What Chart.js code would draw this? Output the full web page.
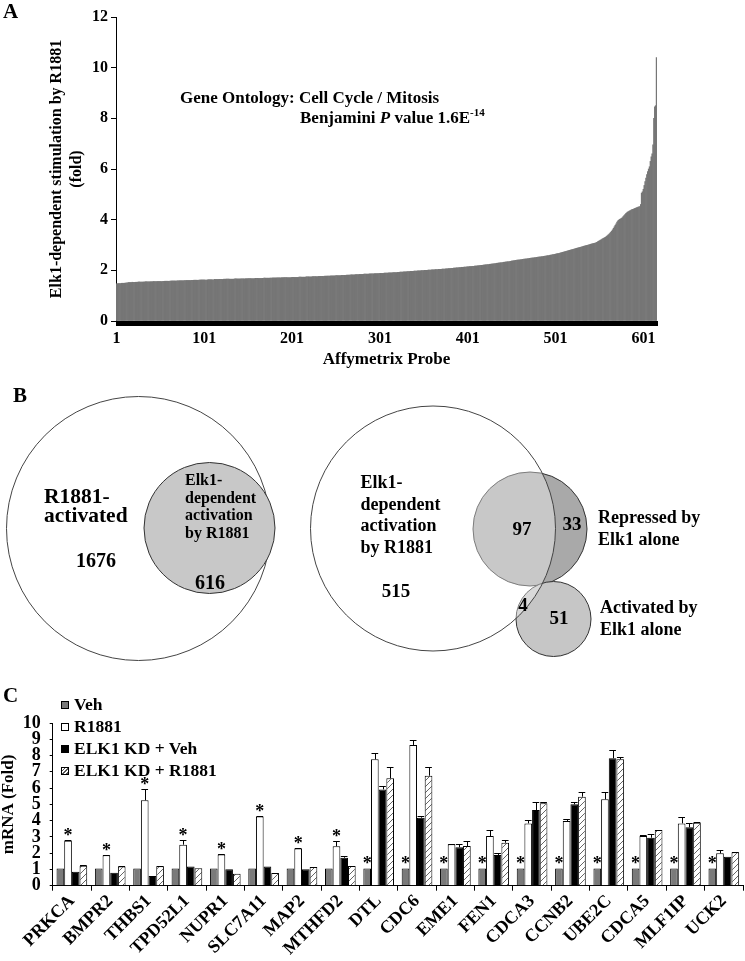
<!DOCTYPE html>
<html>
<head>
<meta charset="utf-8">
<title>Elk1-dependent activation by R1881</title>
<script src="https://cdn.jsdelivr.net/npm/chart.js@4.4.1/dist/chart.umd.min.js"></script>
<style>
html,body{margin:0;padding:0;background:#fff;}
#page{position:relative;width:745px;height:961px;overflow:hidden;background:#fff;font-family:"Liberation Serif","Times New Roman",Times,serif;font-weight:bold;color:#000;}
#page canvas{position:absolute;left:0;}
.t{position:absolute;white-space:nowrap;line-height:1;}
.sw{position:absolute;width:6px;height:6px;border:1px solid #000;}
</style>
</head>
<body>
<div id="page">
  <canvas id="chartA" width="745" height="374" style="top:0px"></canvas>
  <canvas id="chartB" width="745" height="310" style="top:380px"></canvas>
  <canvas id="chartC" width="745" height="271" style="top:690px"></canvas>
</div>
<script>
// ---------------- DATA ----------------
// Panel A: Elk1-dependent stimulation by R1881 (fold), 616 probes sorted ascending
const probeTickLabels = ['1','101','201','301','401','501','601'];
const probeValues = [
1.47,1.47,1.48,1.48,1.48,1.48,1.49,1.49,1.49,1.49,
1.50,1.50,1.51,1.51,1.52,1.52,1.52,1.52,1.53,1.53,
1.53,1.53,1.53,1.53,1.53,1.54,1.54,1.54,1.54,1.54,
1.54,1.54,1.54,1.55,1.55,1.55,1.55,1.55,1.55,1.55,
1.55,1.55,1.56,1.56,1.56,1.56,1.56,1.56,1.56,1.56,
1.56,1.56,1.56,1.57,1.57,1.57,1.57,1.57,1.57,1.57,
1.57,1.58,1.58,1.58,1.58,1.58,1.58,1.58,1.58,1.59,
1.59,1.59,1.59,1.59,1.59,1.59,1.59,1.60,1.60,1.60,
1.60,1.60,1.60,1.60,1.60,1.61,1.61,1.61,1.61,1.61,
1.61,1.61,1.61,1.61,1.62,1.62,1.62,1.62,1.62,1.62,
1.62,1.62,1.62,1.62,1.63,1.63,1.63,1.63,1.63,1.63,
1.63,1.63,1.64,1.64,1.64,1.64,1.64,1.64,1.64,1.64,
1.64,1.64,1.65,1.65,1.65,1.65,1.65,1.65,1.65,1.65,
1.65,1.65,1.65,1.65,1.65,1.66,1.66,1.66,1.66,1.66,
1.66,1.66,1.66,1.66,1.66,1.66,1.66,1.67,1.67,1.67,
1.67,1.67,1.67,1.67,1.67,1.67,1.67,1.67,1.68,1.68,
1.68,1.68,1.68,1.68,1.68,1.68,1.68,1.68,1.69,1.69,
1.69,1.69,1.69,1.69,1.69,1.69,1.69,1.69,1.70,1.70,
1.70,1.70,1.70,1.70,1.70,1.70,1.70,1.70,1.71,1.71,
1.71,1.71,1.71,1.71,1.71,1.71,1.71,1.71,1.71,1.71,
1.72,1.72,1.72,1.72,1.72,1.72,1.72,1.72,1.73,1.73,
1.73,1.73,1.73,1.73,1.73,1.73,1.74,1.74,1.74,1.74,
1.74,1.74,1.74,1.75,1.75,1.75,1.75,1.75,1.75,1.75,
1.76,1.76,1.76,1.76,1.76,1.76,1.76,1.77,1.77,1.77,
1.77,1.77,1.77,1.77,1.78,1.78,1.78,1.78,1.78,1.78,
1.79,1.79,1.79,1.79,1.79,1.79,1.80,1.80,1.80,1.80,
1.80,1.80,1.81,1.81,1.81,1.81,1.81,1.82,1.82,1.82,
1.82,1.82,1.83,1.83,1.83,1.83,1.83,1.84,1.84,1.84,
1.84,1.84,1.85,1.85,1.85,1.85,1.85,1.85,1.86,1.86,
1.86,1.86,1.86,1.86,1.87,1.87,1.87,1.87,1.87,1.87,
1.88,1.88,1.88,1.88,1.88,1.89,1.89,1.89,1.89,1.89,
1.90,1.90,1.90,1.90,1.90,1.91,1.91,1.91,1.91,1.91,
1.92,1.92,1.92,1.93,1.93,1.93,1.93,1.94,1.94,1.94,
1.94,1.95,1.95,1.95,1.95,1.96,1.96,1.96,1.96,1.97,
1.97,1.97,1.97,1.98,1.98,1.98,1.98,1.99,1.99,1.99,
1.99,2.00,2.00,2.00,2.00,2.01,2.01,2.01,2.01,2.02,
2.02,2.02,2.02,2.03,2.03,2.03,2.03,2.04,2.04,2.04,
2.04,2.05,2.05,2.05,2.05,2.06,2.06,2.06,2.07,2.07,
2.07,2.08,2.08,2.08,2.09,2.09,2.09,2.10,2.10,2.10,
2.11,2.11,2.11,2.12,2.12,2.12,2.13,2.13,2.13,2.14,
2.14,2.14,2.15,2.15,2.15,2.16,2.16,2.16,2.17,2.17,
2.17,2.18,2.18,2.19,2.19,2.20,2.20,2.20,2.21,2.21,
2.22,2.22,2.23,2.23,2.23,2.24,2.24,2.25,2.25,2.26,
2.26,2.27,2.27,2.28,2.28,2.29,2.29,2.30,2.30,2.31,
2.31,2.32,2.32,2.33,2.33,2.34,2.34,2.35,2.35,2.36,
2.37,2.37,2.38,2.38,2.39,2.39,2.40,2.40,2.41,2.41,
2.42,2.42,2.43,2.43,2.44,2.44,2.45,2.45,2.46,2.46,
2.47,2.47,2.48,2.48,2.49,2.49,2.50,2.50,2.51,2.51,
2.52,2.52,2.53,2.53,2.54,2.54,2.55,2.55,2.56,2.56,
2.57,2.58,2.58,2.59,2.60,2.60,2.61,2.62,2.62,2.63,
2.64,2.65,2.66,2.66,2.67,2.68,2.69,2.70,2.71,2.72,
2.73,2.74,2.75,2.76,2.77,2.78,2.79,2.80,2.81,2.82,
2.83,2.84,2.85,2.86,2.87,2.88,2.89,2.90,2.91,2.92,
2.93,2.94,2.95,2.96,2.97,2.98,2.99,3.00,3.01,3.02,
3.03,3.04,3.05,3.06,3.07,3.08,3.09,3.11,3.13,3.15,
3.17,3.19,3.21,3.23,3.25,3.27,3.29,3.31,3.34,3.37,
3.40,3.43,3.47,3.51,3.55,3.60,3.66,3.72,3.78,3.84,
3.90,3.95,3.98,4.01,4.03,4.05,4.08,4.12,4.16,4.20,
4.24,4.27,4.30,4.32,4.34,4.36,4.38,4.40,4.41,4.42,
4.44,4.45,4.47,4.48,4.50,4.51,4.52,4.60,5.05,5.10,
5.20,5.35,5.50,5.64,5.78,5.90,6.00,6.09,6.30,6.48,
6.60,6.95,8.00,8.45,8.50,10.40
];
const panelAYTicks = [0, 2, 4, 6, 8, 10, 12];

// Panel B: Venn counts
const leftVennSetNames = ['R1881-\nactivated', 'Elk1-\ndependent\nactivation\nby R1881'];
const leftVennCounts = [1676, 616];
const rightVennSetNames = ['Elk1-\ndependent\nactivation\nby R1881', 'Repressed by\nElk1 alone', 'Activated by\nElk1 alone'];
const rightVennCounts = [515, 97, 33, 4, 51];

// Panel C: qPCR mRNA (fold)
const geneNames = ['PRKCA','BMPR2','THBS1','TPD52L1','NUPR1','SLC7A11','MAP2','MTHFD2','DTL','CDC6','EME1','FEN1','CDCA3','CCNB2','UBE2C','CDCA5','MLF1IP','UCK2'];
const seriesNames = ['Veh', 'R1881', 'ELK1 KD + Veh', 'ELK1 KD + R1881'];
const vehValues    = [1.06,1.06,1.06,1.06,1.06,1.06,1.06,1.06,1.06,1.06,1.06,1.06,1.06,1.06,1.06,1.06,1.06,1.06];
const r1881Values  = [2.76,1.87,5.25,2.52,1.91,4.26,2.28,2.42,7.77,8.65,2.54,3.05,3.83,3.98,5.31,3.05,3.83,1.99];
const kdVehValues  = [0.86,0.79,0.59,1.18,1.01,1.18,1.01,1.72,5.92,4.18,2.36,1.89,4.65,5.00,7.83,2.95,3.59,1.78];
const kdR1881Values= [1.22,1.18,1.20,1.08,0.74,0.78,1.15,1.21,6.60,6.76,2.44,2.64,5.06,5.47,7.77,3.42,3.87,2.05];
const vehErr       = [0,0,0,0,0,0,0,0,0,0,0,0,0,0,0,0,0,0];
const r1881Err     = [0.04,0.04,0.72,0.27,0.03,0.04,0.04,0.30,0.37,0.30,0.04,0.40,0.20,0.12,0.43,0.04,0.41,0.20];
const kdVehErr     = [0,0,0,0,0,0,0,0.08,0.20,0.10,0.20,0.10,0.47,0.16,0.51,0.20,0.24,0];
const kdR1881Err   = [0.03,0.03,0.03,0,0,0,0,0,0.70,0.55,0.30,0.15,0.10,0.27,0.16,0.03,0.03,0.03];
const starOnR1881  = [1,1,1,1,1,1,1,1,0,0,0,0,0,0,0,0,0,0];
const starOnVeh    = [0,0,0,0,0,0,0,0,1,1,1,1,1,1,1,1,1,1];
const panelCYMax = 10;

// ---------------- SETUP ----------------
const FONT = '"Liberation Serif","Times New Roman",Times,serif';
Chart.defaults.font.family = FONT;
Chart.defaults.font.weight = 'bold';
Chart.defaults.color = '#000';
Chart.defaults.animation = false;
const page = document.getElementById('page');

function addText(str, x, cy, size, opts) {
  opts = opts || {};
  const d = document.createElement('div');
  d.className = 't';
  d.style.fontSize = size + 'px';
  d.style.left = x + 'px';
  d.style.top = (cy - size / 2) + 'px';
  if (opts.align === 'center') d.style.transform = 'translateX(-50%)';
  if (opts.style) d.style.cssText += opts.style;
  if (opts.html) d.innerHTML = str; else d.textContent = str;
  page.appendChild(d);
  return d;
}
function addLines(text, x, cy0, size, spacing, opts) {
  text.split('\n').forEach((ln, i) => addText(ln, x, cy0 + i * spacing, size, opts));
}

// ---------------- PANEL A ----------------
const probeNumbers = probeValues.map((v, i) => String(i + 1));
new Chart(document.getElementById('chartA'), {
  type: 'bar',
  data: {
    labels: probeNumbers,
    datasets: [{
      data: probeValues,
      backgroundColor: '#767676',
      borderWidth: 0,
      barPercentage: 1.0,
      categoryPercentage: 1.0
    }]
  },
  options: {
    responsive: false,
    animation: false,
    events: [],
    layout: { padding: { left: 0, right: 88, top: 17, bottom: 0 } },
    plugins: { legend: { display: false }, tooltip: { enabled: false } },
    scales: {
      x: {
        afterFit: s => { s.height = 53; },
        border: { display: true, color: '#000', width: 1 },
        grid: { display: true, drawOnChartArea: false, drawTicks: true, tickLength: 5, color: '#000', lineWidth: 1 },
        ticks: {
          autoSkip: false, maxRotation: 0, minRotation: 0, padding: 3,
          font: { size: 16, weight: 'bold' },
          callback: (v, i) => (i % 100 === 0 ? probeTickLabels[i / 100] : '')
        },
        title: { display: true, text: 'Affymetrix Probe', font: { size: 17, weight: 'bold' }, padding: { top: 0, bottom: 4 } }
      },
      y: {
        min: 0, max: 12,
        afterFit: s => { s.width = 116; },
        afterBuildTicks: s => { s.ticks = panelAYTicks.map(v => ({ value: v })); },
        border: { display: true, color: '#000', width: 1 },
        grid: { display: true, drawOnChartArea: false, drawTicks: true, tickLength: 5, color: '#000' },
        ticks: { padding: 3, font: { size: 16, weight: 'bold' } },
        title: {
          display: true,
          text: ['Elk1-dependent stimulation by R1881', '(fold)'],
          font: { size: 16, weight: 'bold', lineHeight: 1.25 },
          padding: { top: 47, bottom: 0 }
        }
      }
    }
  }
});
addText('A', 3, 11, 21);
addText('Gene Ontology: Cell Cycle / Mitosis', 180, 97, 17);
addText('Benjamini <i>P</i> value 1.6E<sup style="font-size:11px;vertical-align:7px;line-height:0">-14</sup>', 300, 117, 17, { html: true });

// ---------------- PANEL B ----------------
// layout of Venn circles (page-pixel units; the scales map 1 unit = 1 px)
const vennShapes = [
  { x: 138.5, y: 528.5, r: 132,   fill: '#ffffff',               stroke: '#444', order: 5 },
  { x: 209.5, y: 528,   r: 65.5,  fill: '#c8c8c8',               stroke: '#333', order: 4 },
  { x: 530,   y: 529,   r: 57,    fill: '#a9a9a9',               stroke: '#333', order: 3 },
  { x: 553.5, y: 619,   r: 37.5,  fill: '#c6c6c6',               stroke: '#333', order: 2 },
  { x: 433,   y: 528.5, r: 122.5, fill: 'rgba(255,255,255,0.36)', stroke: '#444', order: 1 }
];
new Chart(document.getElementById('chartB'), {
  type: 'bubble',
  data: {
    datasets: vennShapes.map(c => ({
      data: [{ x: c.x, y: c.y, r: c.r }],
      backgroundColor: c.fill,
      borderColor: c.stroke,
      borderWidth: 1,
      hoverRadius: 0,
      order: c.order,
      clip: false
    }))
  },
  options: {
    responsive: false,
    animation: false,
    events: [],
    layout: { padding: 0, autoPadding: false },
    plugins: { legend: { display: false }, tooltip: { enabled: false } },
    scales: {
      x: { type: 'linear', min: 0, max: 745, display: false },
      y: { type: 'linear', min: 380, max: 690, reverse: true, display: false }
    }
  }
});
addText('B', 13, 395, 21);
addLines(leftVennSetNames[0], 44, 497, 21.5, 18.5);
addText(String(leftVennCounts[0]), 96, 560, 20, { align: 'center' });
addLines(leftVennSetNames[1], 185, 480, 16, 17.7);
addText(String(leftVennCounts[1]), 210, 582, 20, { align: 'center' });
addLines(rightVennSetNames[0], 360.5, 481.7, 18, 21.8);
addText(String(rightVennCounts[0]), 396, 590, 19, { align: 'center' });
addText(String(rightVennCounts[1]), 522, 528, 19, { align: 'center' });
addText(String(rightVennCounts[2]), 572, 523, 19, { align: 'center' });
addText(String(rightVennCounts[3]), 523, 604, 19, { align: 'center' });
addText(String(rightVennCounts[4]), 559, 617, 19, { align: 'center' });
addLines(rightVennSetNames[1], 598, 517, 18, 22);
addLines(rightVennSetNames[2], 600, 607, 18, 21.5);

// ---------------- PANEL C ----------------
const ctxC = document.getElementById('chartC').getContext('2d');
function makeHatch(ctx) {
  const c = document.createElement('canvas');
  c.width = 6; c.height = 6;
  const g = c.getContext('2d');
  g.fillStyle = '#fff'; g.fillRect(0, 0, 6, 6);
  g.strokeStyle = '#555'; g.lineWidth = 0.9;
  g.beginPath();
  g.moveTo(0, 6); g.lineTo(6, 0);
  g.moveTo(-1, 1); g.lineTo(1, -1);
  g.moveTo(5, 7); g.lineTo(7, 5);
  g.stroke();
  return ctx.createPattern(c, 'repeat');
}
const errorSets = [vehErr, r1881Err, kdVehErr, kdR1881Err];
const marksPlugin = {
  id: 'marks',
  afterDatasetsDraw(chart) {
    const ctx = chart.ctx, ys = chart.scales.y;
    ctx.save();
    ctx.strokeStyle = '#000';
    ctx.lineWidth = 1;
    errorSets.forEach((errs, d) => {
      const meta = chart.getDatasetMeta(d);
      meta.data.forEach((el, i) => {
        const e = errs[i];
        if (!e) return;
        const v = chart.data.datasets[d].data[i];
        const yTop = Math.round(ys.getPixelForValue(v + e)) + 0.5;
        const x = Math.round(el.x) + 0.5;
        const half = el.width / 2 - 0.5;
        ctx.beginPath();
        ctx.moveTo(x, el.y);
        ctx.lineTo(x, yTop);
        ctx.moveTo(el.x - half, yTop);
        ctx.lineTo(el.x + half, yTop);
        ctx.stroke();
      });
    });
    ctx.font = 'bold 18px ' + FONT;
    ctx.textAlign = 'center';
    ctx.textBaseline = 'alphabetic';
    ctx.fillStyle = '#000';
    geneNames.forEach((g, i) => {
      let d = -1;
      if (starOnR1881[i]) d = 1; else if (starOnVeh[i]) d = 0;
      if (d < 0) return;
      const el = chart.getDatasetMeta(d).data[i];
      const v = chart.data.datasets[d].data[i] + errorSets[d][i];
      ctx.fillText('*', el.x, ys.getPixelForValue(v) + 1);
    });
    ctx.restore();
  }
};
const seriesColors = ['#7a7a7a', '#ffffff', '#000000', makeHatch(ctxC)];
const seriesData = [vehValues, r1881Values, kdVehValues, kdR1881Values];
new Chart(ctxC, {
  type: 'bar',
  data: {
    labels: geneNames,
    datasets: seriesNames.map((n, k) => ({
      label: n,
      data: seriesData[k],
      backgroundColor: seriesColors[k],
      borderColor: '#000',
      borderWidth: 1,
      categoryPercentage: 0.8,
      barPercentage: 1.0
    }))
  },
  options: {
    responsive: false,
    animation: false,
    events: [],
    layout: { padding: { left: 0, right: 2, top: 33, bottom: 0 } },
    plugins: { legend: { display: false }, tooltip: { enabled: false } },
    scales: {
      x: {
        afterFit: s => { s.height = 75.3; },
        border: { display: true, color: '#000', width: 1 },
        grid: { display: true, drawOnChartArea: false, drawTicks: true, tickLength: 5, color: '#000' },
        ticks: { autoSkip: false, maxRotation: 45, minRotation: 45, padding: 0, font: { size: 18, weight: 'bold' } }
      },
      y: {
        min: 0, max: panelCYMax,
        afterFit: s => { s.width = 52.7; },
        border: { display: true, color: '#000', width: 1 },
        grid: { display: true, drawOnChartArea: false, drawTicks: true, tickLength: 3, color: '#000' },
        ticks: { stepSize: 1, autoSkip: false, padding: 9, font: { size: 18, weight: 'bold' } },
        title: { display: true, text: 'mRNA (Fold)', font: { size: 17, weight: 'bold', lineHeight: 1 }, padding: { top: 0, bottom: 0 } }
      }
    }
  },
  plugins: [marksPlugin]
});
addText('C', 3, 695, 21);
// legend (HTML)
const legendY = [705, 727, 749, 771];
const swatchStyles = [
  'background:#7a7a7a;',
  'background:#fff;',
  'background:#000;',
  'background:repeating-linear-gradient(135deg,#fff 0px,#fff 1.6px,#555 1.6px,#555 2.6px);'
];
seriesNames.forEach((n, k) => {
  const sw = document.createElement('div');
  sw.className = 'sw';
  sw.style.cssText += 'left:61px;top:' + (legendY[k] - 4) + 'px;' + swatchStyles[k];
  page.appendChild(sw);
  addText(n, 74, legendY[k], 17.5);
});
</script>
</body>
</html>
